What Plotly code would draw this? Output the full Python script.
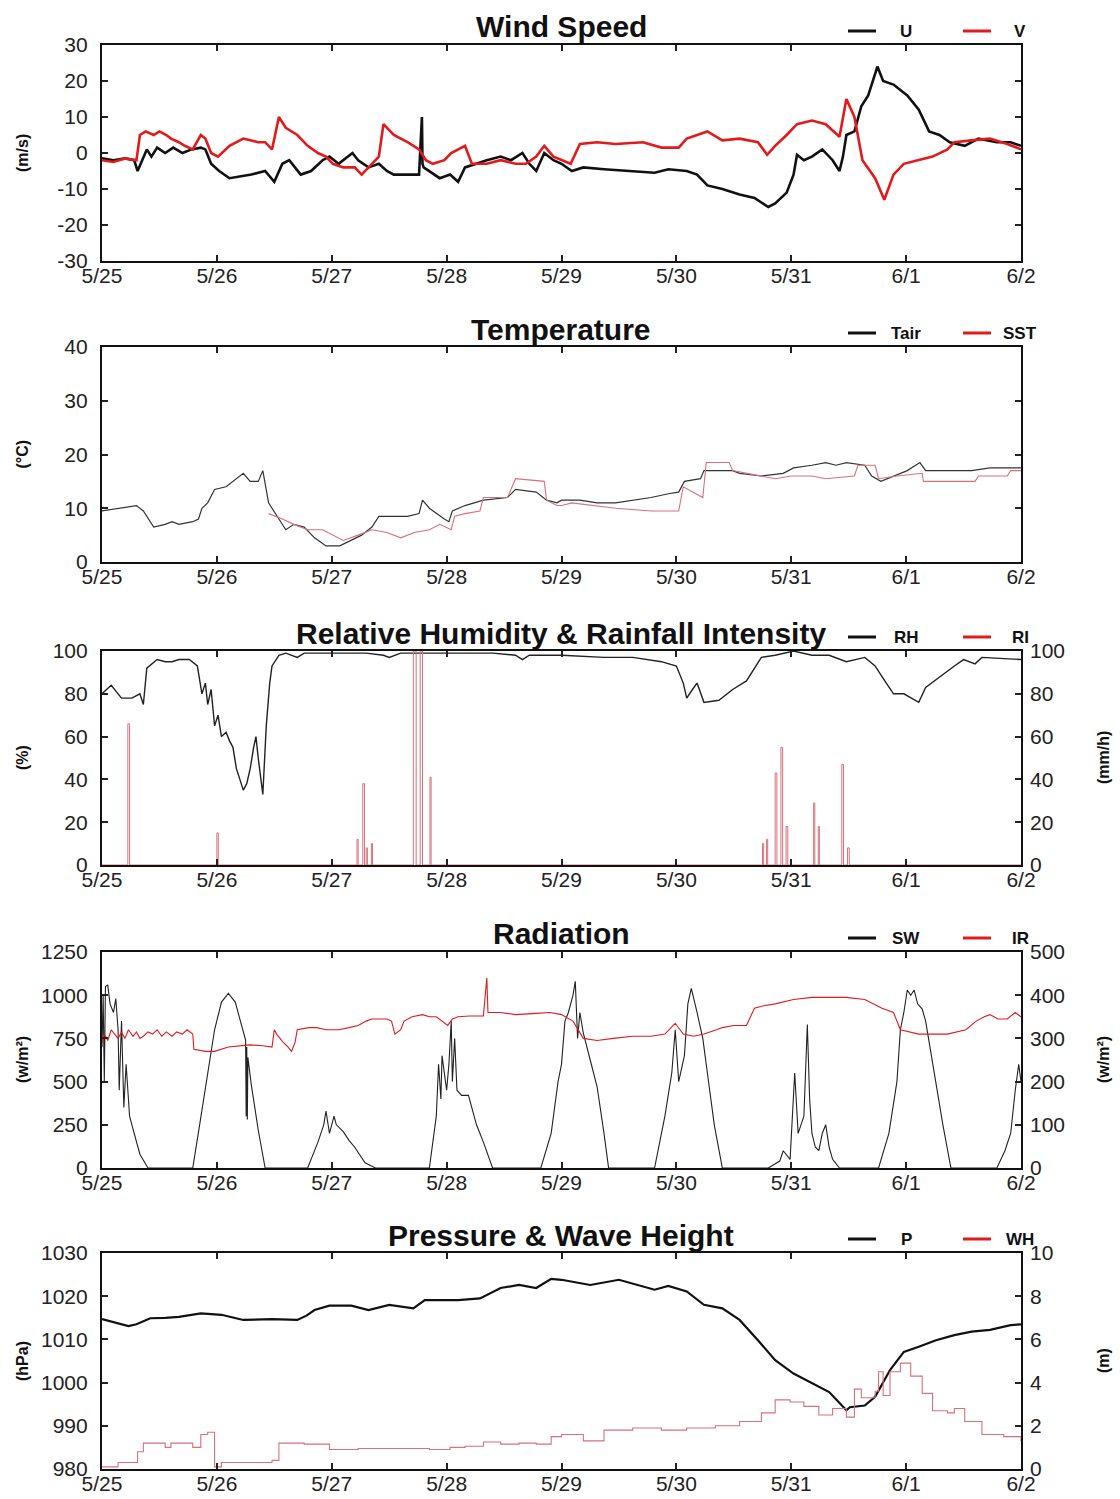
import plotly.graph_objects as go

# ---------------- data (time in days since 5/25 00:00) ----------------
DAY_TICKS = [0, 1, 2, 3, 4, 5, 6, 7, 8]
DAY_LABELS = ["5/25", "5/26", "5/27", "5/28", "5/29", "5/30", "5/31", "6/1", "6/2"]
WIND_TICKS = [-30, -20, -10, 0, 10, 20, 30]
WIND_LABELS = ["-30", "-20", "-10", "0", "10", "20", "30"]

U_SERIES = [(0, -1.5), (0.1, -2), (0.2, -1.5), (0.28, -2), (0.31, -5), (0.35, -2), (0.39, 1), (0.43, -1),
            (0.48, 1.5), (0.55, 0), (0.62, 1.5), (0.7, 0), (0.78, 1), (0.86, 1.5), (0.9, 1), (0.95, -3),
            (1.02, -5), (1.11, -7), (1.2, -6.5), (1.3, -6), (1.42, -5), (1.5, -8), (1.57, -3), (1.63, -2),
            (1.73, -6), (1.82, -5), (1.92, -2), (1.98, -1), (2.06, -3), (2.18, 0), (2.23, -2), (2.32, -4),
            (2.41, -3), (2.48, -5), (2.54, -6), (2.65, -6), (2.76, -6), (2.785, 10), (2.79, -3), (2.8, -4),
            (2.85, -5), (2.94, -7), (3.03, -6), (3.1, -8), (3.16, -4), (3.25, -3), (3.35, -2), (3.47, -1),
            (3.56, -2), (3.66, 0), (3.72, -3), (3.78, -5), (3.85, 0), (3.93, -2), (4.0, -3), (4.09, -5),
            (4.19, -4), (4.37, -4.5), (4.62, -5), (4.81, -5.5), (4.93, -4.5), (5.09, -5), (5.18, -6),
            (5.27, -9), (5.4, -10), (5.55, -11.5), (5.68, -12.5), (5.8, -15), (5.86, -14), (5.96, -11),
            (6.02, -6), (6.05, -0.5), (6.11, -2), (6.18, -1), (6.27, 1), (6.36, -2), (6.42, -5), (6.45, -1),
            (6.48, 5), (6.55, 6), (6.61, 13), (6.67, 16), (6.75, 24), (6.8, 20), (6.89, 19), (7.01, 16),
            (7.11, 12), (7.2, 6), (7.29, 5), (7.38, 3), (7.51, 2), (7.63, 4), (7.79, 3), (7.91, 3), (8.0, 2)]

V_SERIES = [(0, -2), (0.1, -2.5), (0.2, -1.5), (0.3, -2), (0.33, 5), (0.38, 6), (0.45, 5), (0.5, 6),
            (0.56, 5), (0.6, 4), (0.67, 3), (0.72, 2), (0.79, 1), (0.86, 5), (0.9, 4), (0.95, 0), (1.01, -1),
            (1.11, 2), (1.23, 4), (1.36, 3), (1.42, 3), (1.48, 1), (1.54, 10), (1.6, 7), (1.7, 5), (1.79, 2),
            (1.88, 0), (1.95, -1), (2.01, -3), (2.1, -4), (2.2, -4), (2.26, -6), (2.35, -3), (2.41, -1),
            (2.45, 8), (2.54, 5), (2.66, 3), (2.76, 1), (2.82, -2), (2.88, -3), (2.98, -2), (3.04, 0),
            (3.16, 2), (3.22, -3), (3.35, -3), (3.47, -2), (3.6, -3), (3.69, -3), (3.78, -1), (3.85, 2),
            (3.93, -1), (4.0, -2), (4.08, -3), (4.16, 2.5), (4.31, 3), (4.47, 2.5), (4.71, 3), (4.87, 1.5),
            (5.02, 1.5), (5.09, 4), (5.27, 6), (5.4, 3.5), (5.55, 4), (5.71, 3), (5.79, -0.5), (5.86, 2),
            (5.96, 5), (6.05, 8), (6.18, 9), (6.3, 8), (6.42, 4.5), (6.48, 15), (6.55, 10), (6.62, -2),
            (6.73, -7), (6.81, -13), (6.89, -6), (6.98, -3), (7.11, -2), (7.23, -1), (7.36, 1), (7.42, 3),
            (7.57, 3.5), (7.73, 4), (7.88, 2.5), (8.0, 1)]

TAIR_SERIES = [(0, 9.5), (0.14, 10), (0.3, 10.5), (0.36, 9.5), (0.45, 6.5), (0.55, 7), (0.61, 7.5), (0.67, 7),
               (0.79, 7.5), (0.84, 8), (0.87, 10), (0.92, 11), (0.98, 13.5), (1.08, 14), (1.17, 15.5),
               (1.23, 16.5), (1.29, 15), (1.36, 15), (1.4, 17), (1.45, 11), (1.54, 8), (1.6, 6), (1.67, 7),
               (1.76, 6.5), (1.85, 4.5), (1.95, 3), (2.07, 3), (2.17, 4), (2.26, 5), (2.35, 6.5), (2.41, 8.5),
               (2.5, 8.5), (2.66, 8.5), (2.76, 9), (2.79, 11.5), (2.85, 10), (2.91, 9), (2.98, 8), (3.02, 7.5),
               (3.05, 9.5), (3.16, 10.5), (3.32, 11.5), (3.53, 12), (3.6, 13.5), (3.78, 13), (3.87, 11.5),
               (3.96, 11), (4.0, 11.5), (4.16, 11.5), (4.31, 11), (4.47, 11), (4.62, 11.5), (4.78, 12),
               (4.93, 12.7), (5.02, 13), (5.07, 15), (5.21, 15.5), (5.24, 17), (5.4, 17), (5.49, 17),
               (5.55, 16.5), (5.74, 16), (5.93, 16.5), (6.02, 17.5), (6.18, 18), (6.3, 18.5), (6.39, 18),
               (6.48, 18.5), (6.64, 18), (6.7, 16), (6.78, 15), (6.89, 16), (7.01, 17), (7.12, 18.5),
               (7.17, 17), (7.42, 17), (7.57, 17), (7.73, 17.5), (7.88, 17.5), (8.0, 17.5)]

SST_SERIES = [(1.45, 9), (1.57, 8), (1.67, 7), (1.79, 6), (1.92, 6), (2.01, 5), (2.1, 4), (2.23, 5), (2.35, 6),
              (2.48, 5.5), (2.6, 4.5), (2.72, 5.5), (2.85, 6), (2.94, 7), (3.04, 6), (3.07, 8.5), (3.16, 9),
              (3.29, 9.5), (3.32, 12), (3.53, 12), (3.6, 15.5), (3.85, 15), (3.87, 11.5), (3.96, 10.5),
              (4.0, 10.5), (4.09, 11), (4.31, 10.5), (4.47, 10), (4.78, 9.5), (5.02, 9.5), (5.06, 14),
              (5.15, 13), (5.23, 12), (5.26, 18.5), (5.46, 18.5), (5.49, 17), (5.74, 16), (5.86, 15.5),
              (6.0, 16), (6.18, 16), (6.3, 15.5), (6.55, 16), (6.58, 18), (6.73, 18), (6.76, 15.5),
              (6.92, 16), (7.14, 16.5), (7.15, 15), (7.6, 15), (7.63, 16), (7.88, 16), (7.91, 17), (8.0, 17)]

RH_SERIES = [(0, 80), (0.08, 84), (0.17, 78), (0.26, 78), (0.33, 80), (0.36, 75), (0.39, 92), (0.48, 96),
             (0.55, 95), (0.61, 95), (0.67, 96), (0.76, 96), (0.83, 93), (0.87, 80), (0.9, 85), (0.92, 75),
             (0.95, 82), (0.98, 65), (1.01, 70), (1.04, 60), (1.08, 62), (1.11, 58), (1.14, 55), (1.17, 45),
             (1.2, 40), (1.23, 35), (1.26, 38), (1.29, 45), (1.32, 55), (1.34, 60), (1.36, 50), (1.37, 45),
             (1.4, 33), (1.43, 65), (1.46, 85), (1.48, 93), (1.54, 98), (1.6, 99), (1.7, 97), (1.76, 99),
             (2.0, 99), (2.3, 99), (2.45, 98), (2.5, 97), (2.6, 99), (3.0, 99), (3.4, 99), (3.6, 98),
             (3.66, 96), (3.72, 98), (4.0, 98), (4.37, 97), (4.62, 97), (4.87, 95), (5.0, 93), (5.06, 85),
             (5.09, 78), (5.14, 82), (5.18, 85), (5.24, 76), (5.37, 77), (5.49, 82), (5.61, 86), (5.74, 97),
             (5.86, 98), (6.02, 100), (6.18, 98), (6.33, 98), (6.48, 95), (6.64, 97), (6.73, 93), (6.79, 88),
             (6.89, 80), (6.98, 80), (7.11, 76), (7.17, 83), (7.29, 88), (7.42, 93), (7.5, 96), (7.6, 94),
             (7.66, 97), (8.0, 96)]

# rainfall events: (start day, end day, intensity mm/h)
RI_EVENTS = [(0.225, 0.24, 66), (1.0, 1.012, 15), (2.22, 2.23, 12), (2.27, 2.285, 38), (2.30, 2.31, 8),
             (2.345, 2.355, 10), (2.71, 2.735, 100), (2.77, 2.79, 100), (2.855, 2.865, 41),
             (5.75, 5.76, 10), (5.785, 5.795, 12), (5.86, 5.875, 43), (5.91, 5.925, 55), (5.955, 5.97, 18),
             (6.195, 6.205, 29), (6.235, 6.245, 18), (6.44, 6.455, 47), (6.49, 6.505, 8)]

SW_SERIES = [(0, 700), (0.01, 1000), (0.02, 500), (0.03, 1050), (0.05, 1060), (0.07, 950), (0.1, 900),
             (0.12, 980), (0.14, 800), (0.15, 450), (0.17, 850), (0.19, 350), (0.21, 600), (0.24, 300),
             (0.28, 200), (0.33, 80), (0.4, 0), (0.79, 0), (0.85, 250), (0.92, 550), (0.98, 800), (1.04, 960),
             (1.1, 1010), (1.16, 960), (1.22, 820), (1.25, 740), (1.255, 300), (1.26, 700), (1.265, 280),
             (1.27, 640), (1.3, 480), (1.36, 220), (1.42, 0), (1.79, 0), (1.88, 150), (1.93, 250), (1.95, 330),
             (1.98, 200), (2.02, 300), (2.04, 250), (2.1, 210), (2.15, 160), (2.2, 120), (2.29, 30), (2.38, 0),
             (2.85, 0), (2.91, 300), (2.93, 600), (2.95, 400), (2.96, 650), (3.0, 450), (3.02, 600),
             (3.04, 850), (3.05, 500), (3.07, 750), (3.09, 450), (3.13, 420), (3.19, 420), (3.26, 250),
             (3.32, 150), (3.4, 0), (3.82, 0), (3.91, 200), (3.97, 500), (4.0, 600), (4.03, 850), (4.06, 900),
             (4.1, 1000), (4.12, 1080), (4.14, 750), (4.16, 900), (4.19, 780), (4.25, 625), (4.31, 470),
             (4.37, 200), (4.41, 0), (4.81, 0), (4.9, 300), (4.96, 550), (4.99, 800), (5.02, 500), (5.07, 650),
             (5.1, 950), (5.13, 1040), (5.18, 900), (5.23, 750), (5.27, 550), (5.33, 250), (5.4, 0), (5.8, 0),
             (5.9, 40), (5.93, 100), (5.99, 50), (6.01, 300), (6.03, 550), (6.06, 200), (6.11, 300),
             (6.14, 830), (6.16, 400), (6.18, 200), (6.21, 120), (6.24, 100), (6.27, 200), (6.3, 250),
             (6.33, 120), (6.36, 50), (6.42, 0), (6.76, 0), (6.85, 200), (6.92, 500), (6.95, 800), (6.98, 900),
             (7.01, 1030), (7.04, 1000), (7.07, 1030), (7.1, 950), (7.14, 920), (7.17, 850), (7.22, 650),
             (7.26, 500), (7.32, 250), (7.39, 0), (7.79, 0), (7.86, 100), (7.91, 200), (7.95, 450), (7.98, 600),
             (8.0, 500)]

IR_SERIES = [(0, 290), (0.02, 310), (0.05, 295), (0.08, 320), (0.11, 310), (0.14, 300), (0.17, 315), (0.2, 300),
             (0.23, 320), (0.27, 305), (0.3, 315), (0.33, 300), (0.36, 305), (0.4, 315), (0.44, 310), (0.48, 320),
             (0.52, 305), (0.56, 315), (0.61, 305), (0.65, 315), (0.7, 310), (0.74, 320), (0.79, 310),
             (0.8, 275), (0.9, 270), (0.98, 270), (1.1, 280), (1.29, 285), (1.4, 283), (1.48, 280), (1.5, 320),
             (1.52, 310), (1.55, 300), (1.58, 290), (1.62, 280), (1.65, 270), (1.68, 290), (1.7, 320),
             (1.8, 325), (1.87, 325), (1.95, 320), (2.06, 320), (2.15, 325), (2.23, 330), (2.3, 340),
             (2.35, 345), (2.48, 345), (2.52, 340), (2.55, 310), (2.6, 320), (2.63, 340), (2.7, 350),
             (2.79, 355), (2.85, 350), (2.91, 350), (2.96, 340), (3.01, 330), (3.05, 345), (3.1, 350),
             (3.2, 352), (3.32, 352), (3.35, 440), (3.36, 360), (3.47, 360), (3.6, 355), (3.78, 358),
             (3.9, 360), (4.0, 355), (4.1, 340), (4.19, 300), (4.31, 295), (4.45, 300), (4.62, 305), (4.78, 305),
             (4.9, 310), (4.99, 335), (5.06, 310), (5.15, 305), (5.24, 310), (5.35, 320), (5.4, 325), (5.5, 330),
             (5.61, 330), (5.68, 370), (5.75, 375), (5.86, 380), (6.02, 390), (6.18, 395), (6.33, 395),
             (6.48, 395), (6.64, 390), (6.79, 370), (6.89, 360), (6.95, 320), (7.11, 310), (7.25, 310),
             (7.36, 310), (7.52, 320), (7.61, 340), (7.68, 350), (7.73, 355), (7.8, 345), (7.88, 345),
             (7.95, 360), (8.0, 350)]

P_SERIES = [(0, 1014.7), (0.1, 1014), (0.23, 1013.1), (0.3, 1013.5), (0.42, 1014.9), (0.55, 1015),
            (0.67, 1015.2), (0.86, 1016), (1.04, 1015.7), (1.23, 1014.5), (1.48, 1014.7), (1.7, 1014.5),
            (1.78, 1015.5), (1.85, 1016.8), (1.98, 1017.8), (2.17, 1017.8), (2.32, 1016.8), (2.5, 1018),
            (2.71, 1017.2), (2.81, 1019.1), (3.1, 1019.1), (3.29, 1019.5), (3.47, 1021.9), (3.63, 1022.6),
            (3.78, 1021.9), (3.91, 1024), (4.0, 1023.8), (4.25, 1022.6), (4.5, 1023.8), (4.81, 1021.5),
            (4.93, 1022.4), (5.09, 1021.1), (5.24, 1018), (5.4, 1017.2), (5.55, 1014.5), (5.71, 1009.8),
            (5.86, 1005.2), (6.02, 1002.1), (6.18, 999.8), (6.33, 997.8), (6.48, 993.6), (6.51, 994.3),
            (6.64, 994.7), (6.73, 996.7), (6.86, 1002.9), (6.98, 1007.1), (7.11, 1008.3), (7.26, 1009.8),
            (7.42, 1011), (7.57, 1011.8), (7.73, 1012.2), (7.91, 1013.3), (8.0, 1013.5)]

WH_SERIES = [(0, 0.1), (0.14, 0.3), (0.31, 0.8), (0.36, 1.2), (0.55, 1.0), (0.6, 1.2), (0.73, 1.2), (0.79, 1.0),
             (0.86, 1.6), (0.92, 1.7), (0.98, 0.1), (1.04, 0.3), (1.48, 0.4), (1.54, 1.2), (1.76, 1.15),
             (1.98, 0.9), (2.23, 0.95), (2.54, 0.95), (2.85, 0.9), (3.03, 1.0), (3.16, 1.05), (3.32, 1.25),
             (3.47, 1.15), (3.63, 1.2), (3.78, 1.15), (3.91, 1.5), (4.0, 1.6), (4.19, 1.3), (4.37, 1.8),
             (4.62, 1.9), (4.87, 1.8), (5.09, 1.9), (5.34, 2.0), (5.55, 2.2), (5.74, 2.6), (5.86, 3.2),
             (5.99, 3.1), (6.11, 2.9), (6.24, 2.5), (6.36, 2.8), (6.48, 2.4), (6.55, 3.7), (6.61, 3.3),
             (6.73, 3.6), (6.76, 4.5), (6.8, 3.4), (6.86, 4.5), (6.95, 4.9), (7.04, 4.3), (7.14, 3.5),
             (7.23, 2.7), (7.36, 2.6), (7.42, 2.8), (7.51, 2.2), (7.66, 1.6), (7.85, 1.5), (8.0, 1.3)]

# ---------------- helpers ----------------
W, H = 1120, 1499
FONT = "Liberation Sans, Arial, Helvetica, sans-serif"
BLACK = "#111111"
RED = "#e31a1c"
PINK = "#d9707a"


def unzip(series):
    return [p[0] for p in series], [p[1] for p in series]


def events_to_steps(events):
    xs, ys = [0.0], [0.0]
    for t0, t1, h in events:
        xs += [t0, t0, t1, t1]
        ys += [0, h, h, 0]
    xs.append(8.0)
    ys.append(0.0)
    return xs, ys


def py(p):  # pixel y -> paper
    return 1 - p / H


def px(p):  # pixel x -> paper
    return p / W


PANELS = [(45, 261), (347, 562), (651, 865), (952, 1168), (1253, 1469)]
XL, XR = 102, 1021

fig = go.Figure()

# panel 1
t, v = unzip(U_SERIES)
fig.add_trace(go.Scatter(x=t, y=v, mode="lines", line=dict(color=BLACK, width=2.6), xaxis="x", yaxis="y"))
t, v = unzip(V_SERIES)
fig.add_trace(go.Scatter(x=t, y=v, mode="lines", line=dict(color=RED, width=2.6), xaxis="x", yaxis="y"))
# panel 2
t, v = unzip(TAIR_SERIES)
fig.add_trace(go.Scatter(x=t, y=v, mode="lines", line=dict(color="#333333", width=1.2), xaxis="x2", yaxis="y2"))
t, v = unzip(SST_SERIES)
fig.add_trace(go.Scatter(x=t, y=v, mode="lines", line=dict(color=PINK, width=1.1), xaxis="x2", yaxis="y2"))
# panel 3
t, v = unzip(RH_SERIES)
fig.add_trace(go.Scatter(x=t, y=v, mode="lines", line=dict(color="#222222", width=1.4), xaxis="x3", yaxis="y3"))
t, v = events_to_steps(RI_EVENTS)
fig.add_trace(go.Scatter(x=t, y=v, mode="lines", line=dict(color=PINK, width=1), xaxis="x3", yaxis="y4"))
# panel 4
t, v = unzip(SW_SERIES)
fig.add_trace(go.Scatter(x=t, y=v, mode="lines", line=dict(color="#222222", width=1.1), xaxis="x4", yaxis="y5"))
t, v = unzip(IR_SERIES)
fig.add_trace(go.Scatter(x=t, y=v, mode="lines", line=dict(color=RED, width=1.1), xaxis="x4", yaxis="y6"))
# panel 5
t, v = unzip(P_SERIES)
fig.add_trace(go.Scatter(x=t, y=v, mode="lines", line=dict(color=BLACK, width=2.2), xaxis="x5", yaxis="y7"))
t, v = unzip(WH_SERIES)
fig.add_trace(go.Scatter(x=t, y=v, mode="lines", line=dict(color=PINK, width=1.1, shape="hv"),
                         xaxis="x5", yaxis="y8"))

tickfont = dict(family=FONT, size=21, color="#222222")
layout = dict(width=W, height=H, margin=dict(l=0, r=0, t=0, b=0, autoexpand=False), showlegend=False,
              plot_bgcolor="white", paper_bgcolor="white", font=dict(family=FONT), template="none")

YCFG = [  # (axis name, range, dtick, panel, right axis (name, range, dtick) or None)
    ("yaxis", [-30, 30], 10, 0, None),
    ("yaxis2", [0, 40], 10, 1, None),
    ("yaxis3", [0, 100], 20, 2, ("yaxis4", [0, 100], 20)),
    ("yaxis5", [0, 1250], 250, 3, ("yaxis6", [0, 500], 100)),
    ("yaxis7", [980, 1030], 10, 4, ("yaxis8", [0, 10], 2)),
]
for i, (yname, yr, dt, pi, right) in enumerate(YCFG):
    top, bot = PANELS[pi]
    xname = "xaxis" if i == 0 else f"xaxis{i + 1}"
    xid = "x" if i == 0 else f"x{i + 1}"
    yid = "y" if yname == "yaxis" else "y" + yname[5:]
    layout[xname] = dict(domain=[px(XL), px(XR)], anchor=yid, range=[0, 8], tickmode="array",
                         tickvals=DAY_TICKS, ticktext=DAY_LABELS, ticks="inside", ticklen=6, tickwidth=1.5,
                         tickcolor="#222", showline=True, linewidth=2.2, linecolor=BLACK, mirror="ticks",
                         showgrid=False, zeroline=False, tickfont=tickfont, fixedrange=True, automargin=False,
                         ticklabelstandoff=-5)
    ycfg = dict(domain=[py(bot), py(top)], anchor=xid, range=yr, dtick=dt, tick0=yr[0],
                ticks="inside", ticklen=6, tickwidth=1.5, tickcolor="#222", showline=True,
                linewidth=2.2, linecolor=BLACK, mirror="ticks" if right is None else True,
                showgrid=False, zeroline=False, tickfont=tickfont, fixedrange=True, automargin=False,
                ticklabelstandoff=8)
    if yname == "yaxis":
        ycfg.update(tickmode="array", tickvals=WIND_TICKS, ticktext=WIND_LABELS)
    layout[yname] = ycfg
    if right is not None:
        rname, rr, rdt = right
        layout[rname] = dict(overlaying=yid, side="right", anchor=xid, range=rr, dtick=rdt, tick0=rr[0],
                             ticks="inside", ticklen=6, tickwidth=1.5, tickcolor="#222", showline=False,
                             showgrid=False, zeroline=False, tickfont=tickfont, fixedrange=True,
                             automargin=False, ticklabelstandoff=8)

fig.update_layout(**layout)

TITLES = ["Wind Speed", "Temperature", "Relative Humidity & Rainfall Intensity", "Radiation",
          "Pressure & Wave Height"]
LEGENDS = [("U", "V"), ("Tair", "SST"), ("RH", "RI"), ("SW", "IR"), ("P", "WH")]
LEFT_TITLES = ["(m/s)", "(°C)", "(%)", "(w/m²)", "(hPa)"]
RIGHT_TITLES = [None, None, "(mm/h)", "(w/m²)", "(m)"]

ann = []
shapes = []
for i, (top, bot) in enumerate(PANELS):
    ann.append(dict(text=f"<b>{TITLES[i]}</b>", x=px(561), y=py(top - 18), xref="paper", yref="paper",
                    xanchor="center", yanchor="middle", showarrow=False,
                    font=dict(family=FONT, size=30, color="#111")))
    ly = top - 14
    shapes.append(dict(type="line", xref="paper", yref="paper", x0=px(848), x1=px(876), y0=py(ly), y1=py(ly),
                       line=dict(color=BLACK, width=3)))
    shapes.append(dict(type="line", xref="paper", yref="paper", x0=px(963), x1=px(991), y0=py(ly), y1=py(ly),
                       line=dict(color=RED, width=3)))
    ann.append(dict(text=f"<b>{LEGENDS[i][0]}</b>", x=px(906), y=py(ly), xref="paper", yref="paper",
                    xanchor="center", yanchor="middle", showarrow=False,
                    font=dict(family=FONT, size=17, color="#111")))
    ann.append(dict(text=f"<b>{LEGENDS[i][1]}</b>", x=px(1020), y=py(ly), xref="paper", yref="paper",
                    xanchor="center", yanchor="middle", showarrow=False,
                    font=dict(family=FONT, size=17, color="#111")))
    mid = (top + bot) / 2
    ann.append(dict(text=f"<b>{LEFT_TITLES[i]}</b>", x=px(22), y=py(mid), xref="paper", yref="paper",
                    xanchor="center", yanchor="middle", textangle=-90, showarrow=False,
                    font=dict(family=FONT, size=16, color="#111")))
    if RIGHT_TITLES[i]:
        ann.append(dict(text=f"<b>{RIGHT_TITLES[i]}</b>", x=px(1103), y=py(mid), xref="paper", yref="paper",
                        xanchor="center", yanchor="middle", textangle=-90, showarrow=False,
                        font=dict(family=FONT, size=16, color="#111")))

fig.update_layout(annotations=ann, shapes=shapes)
fig.write_html("out.html")
